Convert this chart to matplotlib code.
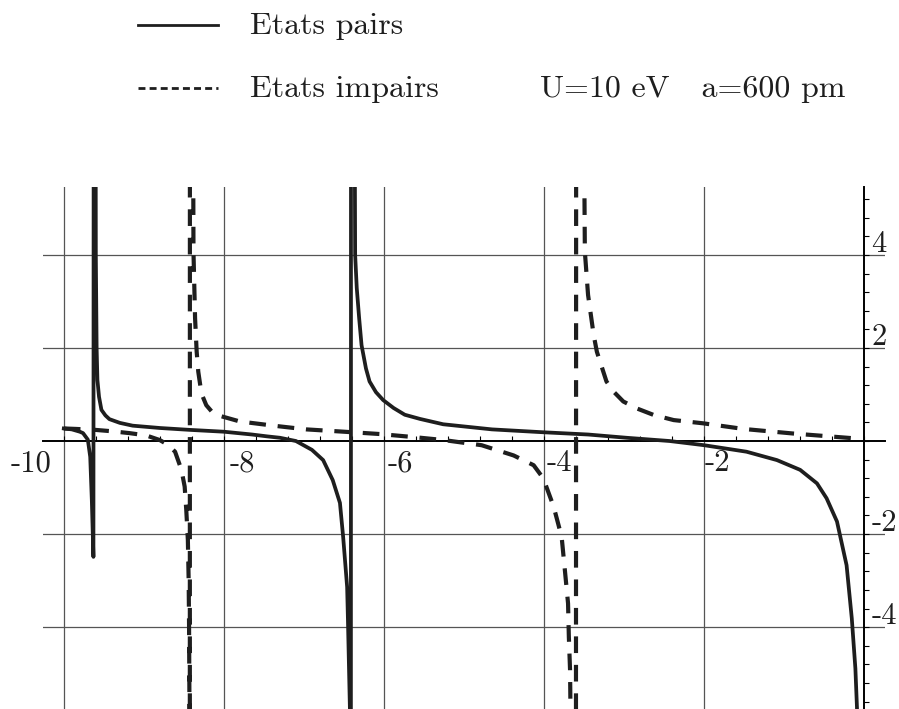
import numpy as np
import matplotlib
matplotlib.use("Agg")
import matplotlib.pyplot as plt
from matplotlib.lines import Line2D
from matplotlib.ticker import MultipleLocator, FixedLocator, NullFormatter

plt.rcParams['lines.scale_dashes'] = False

# -----------------------------------------------------------------
# values (energy in eV, function value)
# +/-30 are the off-chart samples on each side of a pole
# -----------------------------------------------------------------
pairs_x = [-10.0, -9.9, -9.8, -9.76, -9.70, -9.67, -9.65, -9.63,
           -9.62, -9.60, -9.59, -9.58, -9.56, -9.53, -9.48, -9.43, -9.3,
           -9.14, -8.8, -8.43, -8.0, -7.65, -7.46, -7.3, -7.1, -6.9, -6.76,
           -6.64, -6.55, -6.51, -6.46, -6.45, -6.425, -6.415,
           -6.41, -6.36, -6.34, -6.31, -6.28, -6.225, -6.18, -6.10, -6.01,
           -5.88, -5.74, -5.55, -5.26, -4.65, -4.03, -3.45, -2.97, -2.43,
           -2.0, -1.47, -1.09, -0.8, -0.59, -0.47, -0.34, -0.22, -0.155,
           -0.11, -0.09, -0.085]
pairs_y = [0.27, 0.25, 0.20, 0.17, 0.03, -0.34, -1.27, -2.49,
           30, 4.0, 2.0, 1.31, 0.95, 0.67, 0.55, 0.47, 0.39,
           0.33, 0.28, 0.24, 0.20, 0.14, 0.10, 0.07, 0.0, -0.19, -0.41,
           -0.84, -1.33, -2.06, -3.14, -3.85, -5.8, -30,
           30, 4.0, 3.29, 2.64, 2.06, 1.56, 1.28, 1.05, 0.88,
           0.71, 0.565, 0.475, 0.36, 0.25, 0.19, 0.14, 0.07, 0.0,
           -0.09, -0.23, -0.41, -0.62, -0.91, -1.23, -1.73, -2.67, -3.81,
           -4.89, -5.74, -8.0]

impairs_x = [-10.0, -9.85, -9.61, -9.4, -9.18, -8.97, -8.8, -8.7, -8.61,
             -8.53, -8.49, -8.47, -8.45, -8.44, -8.435, -8.43, -8.427,
             -8.423, -8.38, -8.36, -8.34, -8.32, -8.28, -8.22, -8.15, -8.09,
             -7.8, -7.38, -6.97, -6.5, -6.05, -5.6, -5.25, -4.78, -4.38,
             -4.13, -4.01, -3.88, -3.78, -3.74, -3.70, -3.69, -3.675, -3.67,
             -3.605, -3.595, -3.49, -3.45, -3.38, -3.34, -3.22, -3.13,
             -3.01, -2.84, -2.63, -2.38, -2.01, -1.51, -0.88, -0.14]
impairs_y = [0.27, 0.26, 0.24, 0.21, 0.17, 0.12, 0.02, -0.08, -0.23,
             -0.62, -0.98, -1.48, -2.13, -3.0, -4.0, -5.74, -30,
             30, 4.07, 2.64, 1.92, 1.49, 1.02, 0.77, 0.63, 0.56,
             0.42, 0.33, 0.25, 0.20, 0.15, 0.08, 0.02, -0.09, -0.31,
             -0.52, -0.80, -1.41, -2.06, -2.77, -3.49, -4.21, -4.92, -5.71,
             -30, 30, 4.07, 3.14, 2.28, 1.92, 1.28, 1.06,
             0.85, 0.70, 0.56, 0.45, 0.38, 0.26, 0.16, 0.06]

x_grid = [-10, -8, -6, -4, -2]
y_grid = [-4, -2, 2, 4]
x_labels = ['-10', '-8', '-6', '-4', '-2']
y_labels = ['-4', '-2', '2', '4']

ink = '#1e1e1e'
font = 'cmr10'

fig = plt.figure(figsize=(8.99, 7.09), dpi=100)
ax = fig.add_axes([43 / 899, 0.0, 842 / 899, 522 / 709])
ax.set_xlim(-10.26, 0.26)
ax.set_ylim(-5.76, 5.46)
ax.set_facecolor('none')

# grid
for g in x_grid:
    ax.axvline(g, color='#555555', lw=0.9, zorder=1)
for g in y_grid:
    ax.axhline(g, color='#555555', lw=0.9, zorder=1)

# axes through the origin
for s in ['left', 'top']:
    ax.spines[s].set_visible(False)
ax.spines['bottom'].set_position(('data', 0))
ax.spines['right'].set_position(('data', 0))
ax.spines['bottom'].set_linewidth(1.4)
ax.spines['right'].set_linewidth(1.4)
ax.spines['bottom'].set_zorder(2)
ax.spines['right'].set_zorder(2)

ax.xaxis.set_major_locator(FixedLocator(x_grid))
ax.xaxis.set_minor_locator(MultipleLocator(0.4))
ax.yaxis.set_major_locator(FixedLocator(y_grid))
ax.yaxis.set_minor_locator(MultipleLocator(0.4))
ax.xaxis.set_major_formatter(NullFormatter())
ax.yaxis.set_major_formatter(NullFormatter())
ax.yaxis.tick_right()
ax.tick_params(axis='x', which='both', direction='in', length=3.5, width=0.8)
ax.tick_params(axis='y', which='both', direction='out', length=3.5, width=0.8)

# curves
ax.plot(pairs_x, pairs_y, color=ink, lw=2.7, solid_joinstyle='round', zorder=3)
ax.plot(impairs_x, impairs_y, color=ink, lw=3.0, dashes=(12, 8.5),
        dash_capstyle='butt', dash_joinstyle='round', zorder=3)

# tick labels
x_dx = [-12, 6, 4, 3, 1]
for t, lab, dx in zip(x_grid, x_labels, x_dx):
    ax.annotate(lab, xy=(t, 0), xytext=(dx * 0.72, -9 * 0.72),
                textcoords='offset points', ha='right' if dx < 0 else 'left',
                va='top', fontsize=22, family=font, color=ink)
for t, lab in zip(y_grid, y_labels):
    ax.annotate(lab, xy=(0, t), xytext=(7 * 0.72, 3 * 0.72),
                textcoords='offset points', ha='left', va='baseline',
                fontsize=22, family=font, color=ink)

# legend block at the top
fig.add_artist(Line2D([138 / 899, 218 / 899], [1 - 25 / 709] * 2,
                      color=ink, lw=2.0))
fig.add_artist(Line2D([138 / 899, 218 / 899], [1 - 88 / 709] * 2,
                      color=ink, lw=2.0, dashes=(5, 3)))
fig.text(250 / 899, 1 - 34 / 709, 'Etats pairs', fontsize=23, family=font,
         color=ink, va='baseline')
fig.text(250 / 899, 1 - 97 / 709, 'Etats impairs', fontsize=23, family=font,
         color=ink, va='baseline')
fig.text(540 / 899, 1 - 97 / 709, 'U=10 eV   a=600 pm', fontsize=23,
         family=font, color=ink, va='baseline')

fig.savefig('out.png', dpi=100)
